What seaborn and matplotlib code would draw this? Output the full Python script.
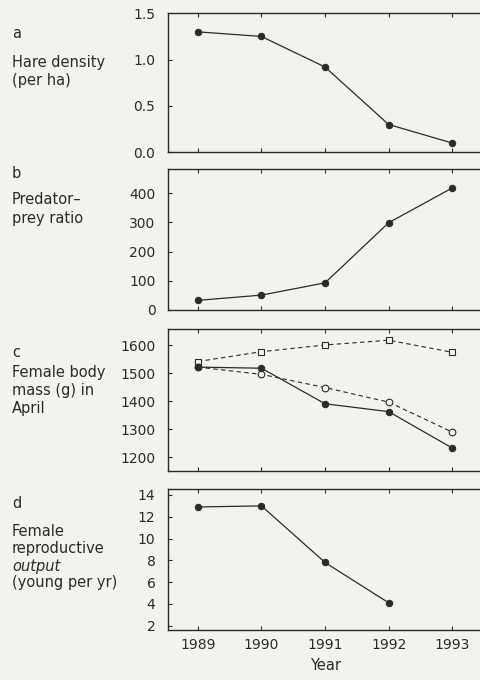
import numpy as np
import pandas as pd
import matplotlib
matplotlib.use("Agg")
import matplotlib.pyplot as plt
import seaborn as sns

years = [1989, 1990, 1991, 1992, 1993]
hare_density = [1.30, 1.25, 0.92, 0.30, 0.10]
predator_prey = [33, 51, 93, 299, 418]
mass_filled = [1522, 1518, 1391, 1363, 1233]
mass_open_circle = [1522, 1496, 1449, 1397, 1290]
mass_open_square = [1542, 1577, 1601, 1618, 1575]
repro_years = [1989, 1990, 1991, 1992]
repro_output = [12.9, 13.0, 7.8, 4.1]

bg = '#f2f2f0'
ink = '#2a2a2a'

sns.set_style("ticks")
plt.rcParams['font.family'] = ['DejaVu Sans']
plt.rcParams['font.size'] = 10

fig = plt.figure(figsize=(4.8, 6.8), dpi=100, facecolor=bg)
W, H = 480.0, 680.0


def add_axes(top, bottom):
    # pixel rows -> figure fraction
    return fig.add_axes([168 / W, 1 - bottom / H, (484 - 168) / W, (bottom - top) / H])


def style(ax, ylim, yticks, show_xlabels=False):
    ax.set_facecolor(bg)
    ax.set_xlim(1988.53, 1993.5)
    ax.set_ylim(*ylim)
    ax.set_yticks(yticks)
    ax.set_xticks(years)
    for s in ['top', 'bottom', 'left']:
        ax.spines[s].set_color(ink)
        ax.spines[s].set_linewidth(1.0)
    ax.spines['right'].set_visible(False)
    ax.tick_params(axis='x', direction='in', top=True, bottom=True, length=3,
                   color=ink, labelbottom=show_xlabels, pad=6, labelsize=10, labelcolor=ink)
    ax.tick_params(axis='y', direction='in', left=True, right=False, length=3,
                   color=ink, pad=9, labelsize=10, labelcolor=ink)
    ax.set_xlabel('')
    ax.set_ylabel('')
    if ax.get_legend():
        ax.get_legend().remove()


def left_text(lines, ys, italic_idx=()):
    for i, (t, y) in enumerate(zip(lines, ys)):
        fig.text(12 / W, 1 - y / H, t, ha='left', va='center', fontsize=10.5, color=ink,
                 style='italic' if i in italic_idx else 'normal')


# panel a
ax_a = add_axes(13.3, 152.3)
df_a = pd.DataFrame({'year': years, 'value': hare_density})
sns.lineplot(data=df_a, x='year', y='value', ax=ax_a, color=ink, lw=0.9,
             marker='o', markersize=4.6, markeredgecolor=ink)
style(ax_a, (0, 1.5), [0.0, 0.5, 1.0, 1.5])
ax_a.set_yticklabels(['0.0', '0.5', '1.0', '1.5'])
left_text(['a', 'Hare density', '(per ha)'], [34, 63, 81])

# panel b
ax_b = add_axes(169.3, 310)
df_b = pd.DataFrame({'year': years, 'value': predator_prey})
sns.lineplot(data=df_b, x='year', y='value', ax=ax_b, color=ink, lw=0.9,
             marker='o', markersize=4.6, markeredgecolor=ink)
style(ax_b, (0, 482), [0, 100, 200, 300, 400])
left_text(['b', 'Predator\u2013', 'prey ratio'], [173, 199, 218])

# panel c
ax_c = add_axes(329.3, 470.7)
df_c = pd.DataFrame({'year': years, 'filled': mass_filled,
                     'open_circle': mass_open_circle, 'open_square': mass_open_square})
sns.lineplot(data=df_c, x='year', y='open_square', ax=ax_c, color=ink, lw=0.8,
             linestyle=(0, (4, 3)), marker='s', markersize=4.2, markerfacecolor=bg,
             markeredgecolor=ink, markeredgewidth=0.8)
sns.lineplot(data=df_c, x='year', y='open_circle', ax=ax_c, color=ink, lw=0.8,
             linestyle=(0, (4, 3)), marker='o', markersize=4.8, markerfacecolor=bg,
             markeredgecolor=ink, markeredgewidth=0.8)
sns.lineplot(data=df_c, x='year', y='filled', ax=ax_c, color=ink, lw=0.9,
             marker='o', markersize=4.6, markeredgecolor=ink)
style(ax_c, (1152, 1657), [1200, 1300, 1400, 1500, 1600])
left_text(['c', 'Female body', 'mass (g) in', 'April'], [352, 372, 390, 408])

# panel d
ax_d = add_axes(489, 630)
df_d = pd.DataFrame({'year': repro_years, 'value': repro_output})
sns.lineplot(data=df_d, x='year', y='value', ax=ax_d, color=ink, lw=0.9,
             marker='o', markersize=4.6, markeredgecolor=ink)
style(ax_d, (1.6, 14.55), [2, 4, 6, 8, 10, 12, 14], show_xlabels=True)
left_text(['d', 'Female', 'reproductive', 'output', '(young per yr)'],
          [503, 532, 549, 566, 582], italic_idx=(3,))

fig.text(326 / W, 1 - 665 / H, 'Year', ha='center', va='center', fontsize=10.5, color=ink)

fig.savefig('out.png', dpi=100, facecolor=bg)
